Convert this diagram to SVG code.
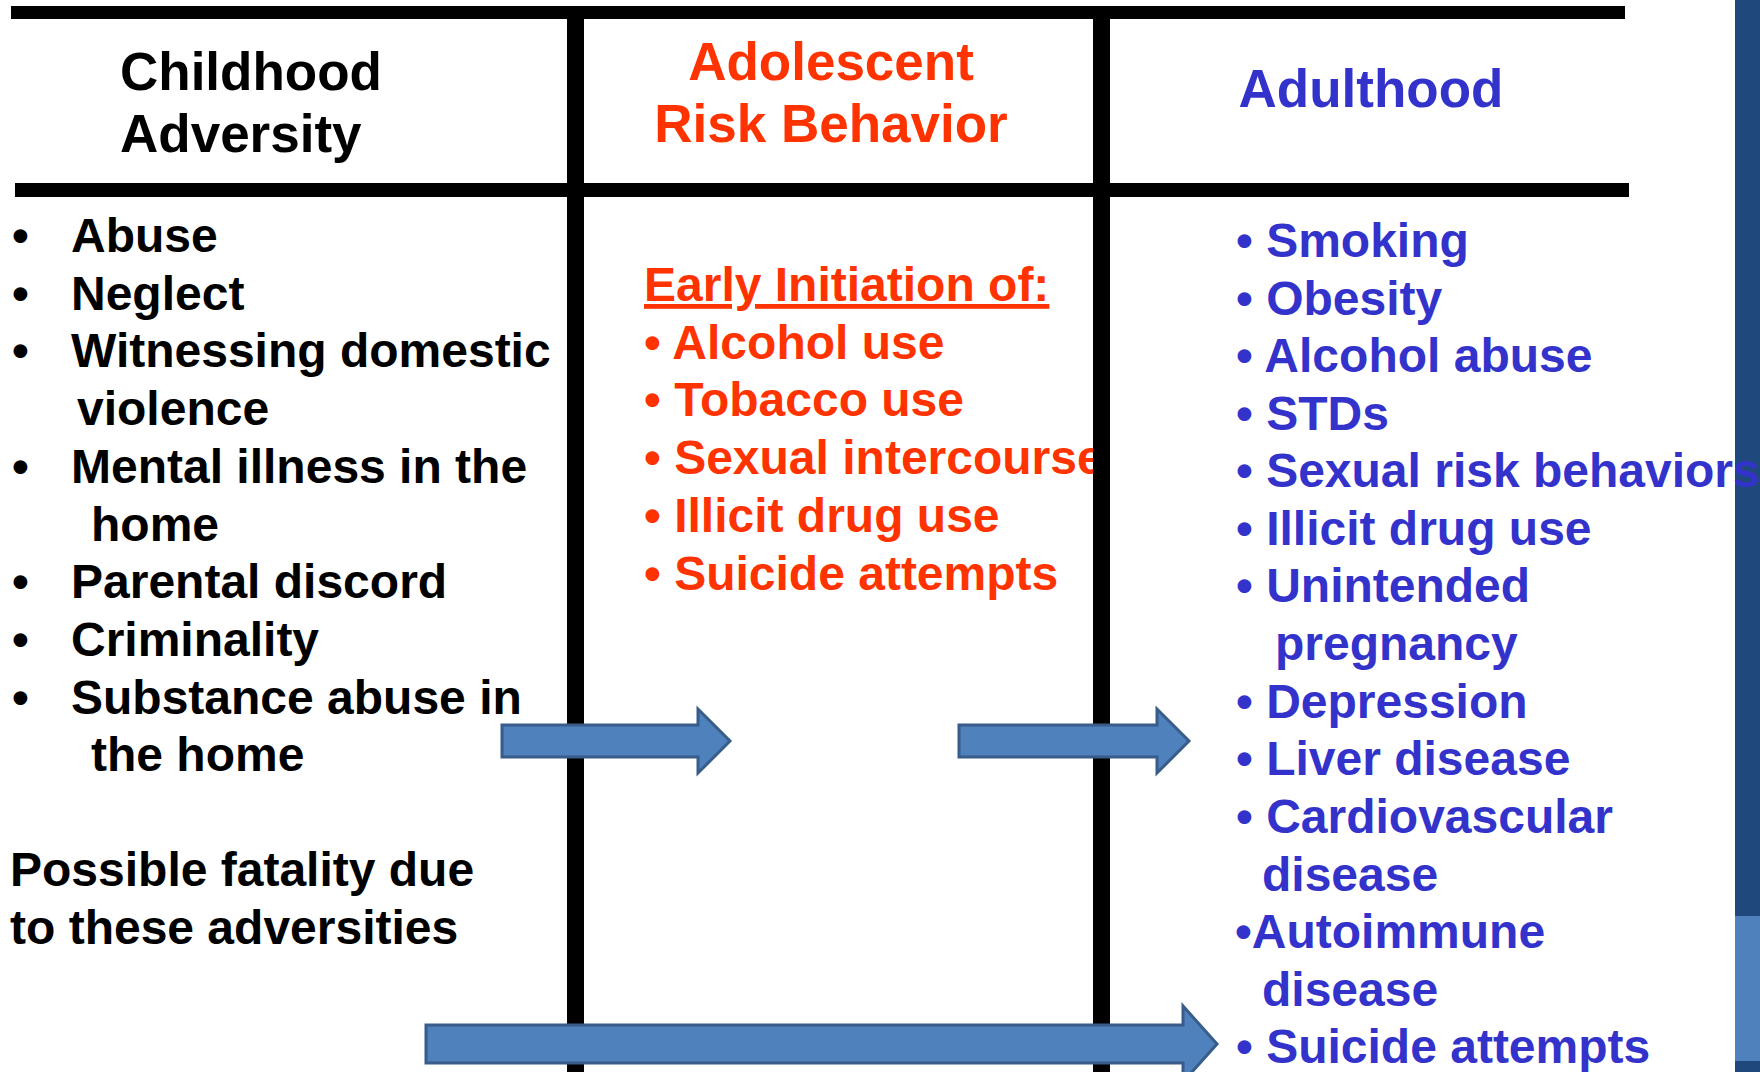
<svg xmlns="http://www.w3.org/2000/svg" width="1760" height="1072" viewBox="0 0 1760 1072">
<style>
text { font-family: "Liberation Sans", Arial, sans-serif; font-weight: bold; }
.hd { font-size: 53px; }
.it { font-size: 48px; }
.blk { fill: #000000; }
.red { fill: #FF3300; }
.blu { fill: #3333CC; }
.bar { fill: #000000; }
.arr { fill: #4F81BD; stroke: #385D8A; stroke-width: 3; stroke-linejoin: miter; }
</style>
<rect x="0" y="0" width="1760" height="1072" fill="#FFFFFF"/>
<g id="side-band">
  <rect x="1735" y="0" width="25" height="1072" fill="#1F497D"/>
  <rect x="1735" y="916" width="25" height="145" fill="#4F81BD"/>
</g>
<g id="childhood">
  <text class="hd blk" x="120" y="90">Childhood</text>
  <text class="hd blk" x="120" y="152">Adversity</text>
  <g class="it blk">
    <text x="12" y="252" class="it">•</text><text x="71" y="252" class="it">Abuse</text>
    <text x="12" y="309.7" class="it">•</text><text x="71" y="309.7" class="it">Neglect</text>
    <text x="12" y="367.4" class="it">•</text><text x="71" y="367.4" class="it">Witnessing domestic</text>
    <text x="77" y="425" class="it">violence</text>
    <text x="12" y="482.8" class="it">•</text><text x="71" y="482.8" class="it">Mental illness in the</text>
    <text x="91" y="540.5" class="it">home</text>
    <text x="12" y="598.2" class="it">•</text><text x="71" y="598.2" class="it">Parental discord</text>
    <text x="12" y="656" class="it">•</text><text x="71" y="656" class="it">Criminality</text>
    <text x="12" y="713.6" class="it">•</text><text x="71" y="713.6" class="it">Substance abuse in</text>
    <text x="91" y="771.3" class="it">the home</text>
    <text x="10" y="886" class="it">Possible fatality due</text>
    <text x="10" y="944" class="it">to these adversities</text>
  </g>
</g>
<g id="adolescent">
  <text class="hd red" x="831" y="80" text-anchor="middle">Adolescent</text>
  <text class="hd red" x="831" y="142" text-anchor="middle">Risk Behavior</text>
  <text class="it red" x="644" y="301" text-decoration="underline">Early Initiation of:</text>
  <text class="it red" x="644" y="358.7">• Alcohol use</text>
  <text class="it red" x="644" y="416.4">• Tobacco use</text>
  <text class="it red" x="644" y="474">• Sexual intercourse</text>
  <text class="it red" x="644" y="531.8">• Illicit drug use</text>
  <text class="it red" x="644" y="589.5">• Suicide attempts</text>
</g>
<g id="adulthood">
  <text class="hd blu" x="1371" y="107" text-anchor="middle">Adulthood</text>
  <text class="it blu" x="1236" y="257">• Smoking</text>
  <text class="it blu" x="1236" y="315">• Obesity</text>
  <text class="it blu" x="1236" y="372">• Alcohol abuse</text>
  <text class="it blu" x="1236" y="430">• STDs</text>
  <text class="it blu" x="1236" y="487">• Sexual risk behaviors</text>
  <text class="it blu" x="1236" y="545">• Illicit drug use</text>
  <text class="it blu" x="1236" y="602">• Unintended</text>
  <text class="it blu" x="1275" y="660">pregnancy</text>
  <text class="it blu" x="1236" y="718">• Depression</text>
  <text class="it blu" x="1236" y="775">• Liver disease</text>
  <text class="it blu" x="1236" y="833">• Cardiovascular</text>
  <text class="it blu" x="1262" y="891">disease</text>
  <text class="it blu" x="1235" y="948">•Autoimmune</text>
  <text class="it blu" x="1262" y="1006">disease</text>
  <text class="it blu" x="1236" y="1063">• Suicide attempts</text>
</g>
<g id="table-lines">
  <rect class="bar" x="11" y="6" width="1614" height="13"/>
  <rect class="bar" x="15" y="183" width="1614" height="14"/>
  <rect class="bar" x="567" y="19" width="17" height="1053"/>
  <rect class="bar" x="1093" y="19" width="17" height="1053"/>
</g>
<g id="connectors">
  <polygon class="arr" points="502,725 698,725 698,709 730,741 698,773 698,757 502,757"/>
  <polygon class="arr" points="959,725 1157,725 1157,709 1189,741 1157,773 1157,757 959,757"/>
  <polygon class="arr" points="426,1025 1183,1025 1183,1006 1217,1044 1183,1082 1183,1063 426,1063"/>
</g>
</svg>
